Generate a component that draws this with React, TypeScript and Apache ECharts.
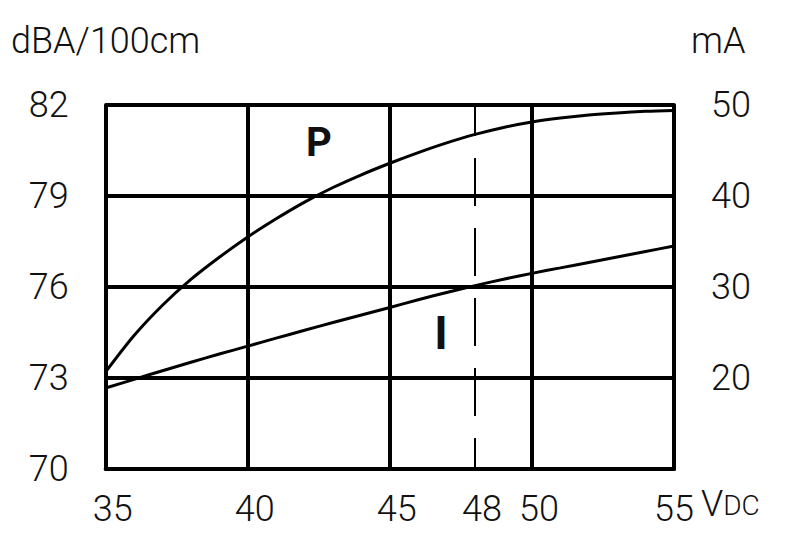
import React, { useEffect, useRef } from "react";
import * as echarts from "echarts";

const voltages = [35, 36, 37, 38, 39, 40, 41, 42, 43, 44, 45, 46, 47, 48, 49, 50, 51, 52, 53, 54, 55];
const soundP = [73.2, 74.4, 75.4, 76.25, 76.98, 77.65, 78.25, 78.8, 79.28, 79.7, 80.08, 80.43, 80.75, 81.03, 81.26, 81.44, 81.57, 81.67, 81.74, 81.79, 81.82];
const currentI = [18.9, 19.85, 20.8, 21.73, 22.63, 23.5, 24.38, 25.24, 26.1, 26.93, 27.75, 28.6, 29.4, 30.15, 30.85, 31.5, 32.1, 32.7, 33.3, 33.9, 34.5];
const xTickLabels = [35, 40, 45, 48, 50, 55];
const markVoltage = 48;

const FONT = "Roboto, 'Liberation Sans', sans-serif";
const FS = 36;
const FW = 300;
const INK = "#111";

export default function App() {
  const ref = useRef<HTMLDivElement>(null);
  useEffect(() => {
    if (!ref.current) return;
    const chart = echarts.init(ref.current, undefined, { renderer: "svg" });
    chart.setOption({
      animation: false,
      backgroundColor: "#fff",
      grid: { left: 96.5, right: 118, top: 97, bottom: 80, containLabel: false },
      xAxis: {
        type: "value",
        min: 35,
        max: 55,
        interval: 5,
        name: "{v|V}{d|DC}",
        nameLocation: "end",
        nameGap: 27,
        nameTextStyle: {
          align: "left",
          verticalAlign: "middle",
          padding: [70, 0, 0, 0],
          rich: {
            v: { fontSize: FS, fontWeight: FW, fontFamily: FONT, color: INK, verticalAlign: "bottom" },
            d: { fontSize: 28, fontWeight: FW, fontFamily: FONT, color: INK, verticalAlign: "bottom", padding: [0, 0, 3, 0] },
          },
        },
        axisLine: { show: true, lineStyle: { color: "#000", width: 4 } },
        axisTick: { show: false },
        splitLine: { show: true, lineStyle: { color: "#000", width: 4 } },
        axisLabel: {
          customValues: xTickLabels,
          margin: 22,
          fontSize: FS,
          fontWeight: FW,
          fontFamily: FONT,
          color: INK,
          formatter: (v: number) => (v === 55 ? "{e|" + v + "}" : "{n|" + v + "}"),
          rich: {
            n: { fontSize: FS, fontWeight: FW, fontFamily: FONT, color: INK, padding: [0, 0, 0, 14] },
            e: { fontSize: FS, fontWeight: FW, fontFamily: FONT, color: INK },
          },
        },
      },
      yAxis: [
        {
          type: "value",
          min: 70,
          max: 82,
          interval: 3,
          position: "left",
          name: "dBA/100cm",
          nameLocation: "end",
          nameGap: 64,
          nameTextStyle: { fontSize: FS, fontWeight: FW, fontFamily: FONT, color: INK, verticalAlign: "middle", align: "center" },
          axisLine: { show: true, lineStyle: { color: "#000", width: 4 } },
          axisTick: { show: false },
          splitLine: { show: true, lineStyle: { color: "#000", width: 4 } },
          axisLabel: { margin: 37, fontSize: FS, fontWeight: FW, fontFamily: FONT, color: INK, padding: [0, 0, 18, 0] },
        },
        {
          type: "value",
          min: 10,
          max: 50,
          interval: 10,
          position: "right",
          name: "mA",
          nameLocation: "end",
          nameGap: 64,
          nameTextStyle: { fontSize: FS, fontWeight: FW, fontFamily: FONT, color: INK, verticalAlign: "middle", align: "left", padding: [0, 0, 0, 17] },
          axisLine: { show: true, lineStyle: { color: "#000", width: 4 } },
          axisTick: { show: false },
          splitLine: { show: false },
          axisLabel: {
            margin: 37,
            fontSize: FS,
            fontWeight: FW,
            fontFamily: FONT,
            color: INK,
            formatter: (v: number) => (v === 10 ? "" : String(v)),
          },
        },
      ],
      series: [
        {
          name: "P",
          type: "line",
          yAxisIndex: 0,
          data: voltages.map((x, i) => [x, soundP[i]]),
          smooth: 0.3,
          showSymbol: false,
          lineStyle: { color: "#000", width: 3 },
          markPoint: {
            symbol: "circle",
            symbolSize: 1,
            itemStyle: { color: "transparent" },
            label: { show: true, position: "inside", formatter: "P", fontSize: 40, fontWeight: "bold", fontFamily: FONT, color: INK },
            data: [{ coord: [42.5, 80.75] }],
          },
          markLine: {
            symbol: "none",
            silent: true,
            label: { show: false },
            lineStyle: { color: "#000", width: 2, type: [48, 22], dashOffset: 17 },
            data: [{ xAxis: markVoltage }],
          },
        },
        {
          name: "I",
          type: "line",
          yAxisIndex: 1,
          data: voltages.map((x, i) => [x, currentI[i]]),
          smooth: 0.3,
          showSymbol: false,
          lineStyle: { color: "#000", width: 3 },
          markPoint: {
            symbol: "circle",
            symbolSize: 1,
            itemStyle: { color: "transparent" },
            label: { show: true, position: "inside", formatter: "I", fontSize: 46, fontWeight: "bold", fontFamily: FONT, color: INK },
            data: [{ coord: [46.8, 24.9] }],
          },
        },
      ],
    });
    return () => chart.dispose();
  }, []);
  return <div ref={ref} style={{ width: 784, height: 541 }} />;
}
